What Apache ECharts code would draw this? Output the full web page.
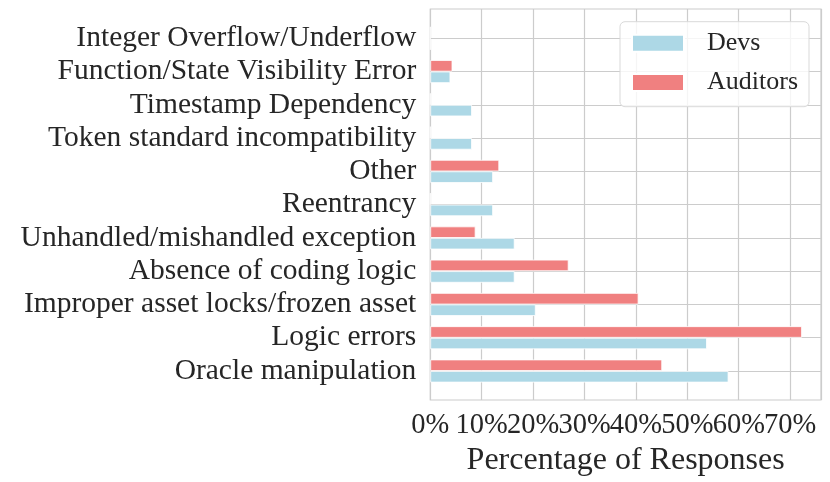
<!DOCTYPE html>
<html><head><meta charset="utf-8">
<script src="https://cdn.jsdelivr.net/npm/echarts@6/dist/echarts.min.js"></script>
<style>html,body{margin:0;padding:0;background:#fff}#c{width:830px;height:482px}</style>
</head><body><div id="c"></div>
<script>
const categories = ["Oracle manipulation","Logic errors","Improper asset locks/frozen asset","Absence of coding logic","Unhandled/mishandled exception","Reentrancy","Other","Token standard incompatibility","Timestamp Dependency","Function/State Visibility Error","Integer Overflow/Underflow"];
const devs = [58.0, 53.8, 20.5, 16.4, 16.4, 12.2, 12.2, 8.1, 8.1, 3.9, 0];
const auditors = [45.1, 72.3, 40.5, 26.9, 8.8, 0, 13.4, 0, 0, 4.3, 0];
const xMax = 76;
const font = "Liberation Serif";
const txt = "#262626";
const chart = echarts.init(document.getElementById('c'), null, {renderer:'canvas'});
chart.setOption({
  animation:false,
  backgroundColor:'#fff',
  textStyle:{fontFamily:font},
  grid:[
    {left:430.3, right:9, top:38.3, height:332.7, containLabel:false},
    {left:430.3, right:9, top:9, bottom:82, show:true, borderColor:'#cccccc', borderWidth:1.2, backgroundColor:'transparent', z:0}
  ],
  xAxis:[
    {gridIndex:0, type:'value', min:0, max:xMax, show:false, splitLine:{show:false}},
    {gridIndex:1, type:'value', min:0, max:xMax, interval:10,
     axisLine:{show:false}, axisTick:{show:false},
     splitLine:{show:true, lineStyle:{color:'#cccccc', width:1.2}},
     axisLabel:{formatter:'{value}%', fontFamily:font, fontSize:28.5, color:txt, margin:11, showMaxLabel:false},
     name:'Percentage of Responses', nameLocation:'middle', nameGap:41,
     nameTextStyle:{fontFamily:font, fontSize:32, color:txt}}
  ],
  yAxis:[
    {gridIndex:0, type:'category', data:categories, boundaryGap:false,
     axisLine:{show:false}, axisTick:{show:false},
     splitLine:{show:true, lineStyle:{color:'#cccccc', width:1.2}},
     axisLabel:{fontFamily:font, fontSize:29.5, color:txt, margin:14, interval:0}},
    {gridIndex:1, type:'value', min:0, max:1, show:false, splitLine:{show:false}}
  ],
  legend:{
    orient:'vertical', left:620, top:21.7, padding:[8.6,11,11.2,11],
    itemWidth:52, itemHeight:17, itemGap:13.2,
    backgroundColor:'rgba(255,255,255,0.8)', borderColor:'#d9d9d9', borderWidth:1, borderRadius:5,
    icon:'rect',
    textStyle:{fontFamily:font, fontSize:26, color:txt, padding:[0,0,0,18]},
    data:['Devs','Auditors']
  },
  series:[
    {name:'Auditors', type:'bar', xAxisIndex:0, yAxisIndex:0, data:auditors, barWidth:11.5, barGap:'0%', clip:false,
     itemStyle:{color:'#F08080', borderColor:'#fff', borderWidth:0.8}},
    {name:'Devs', type:'bar', xAxisIndex:0, yAxisIndex:0, data:devs, barWidth:11.5, barGap:'0%', clip:false,
     itemStyle:{color:'#ADD8E6', borderColor:'#fff', borderWidth:0.8}}
  ]
});
</script></body></html>
